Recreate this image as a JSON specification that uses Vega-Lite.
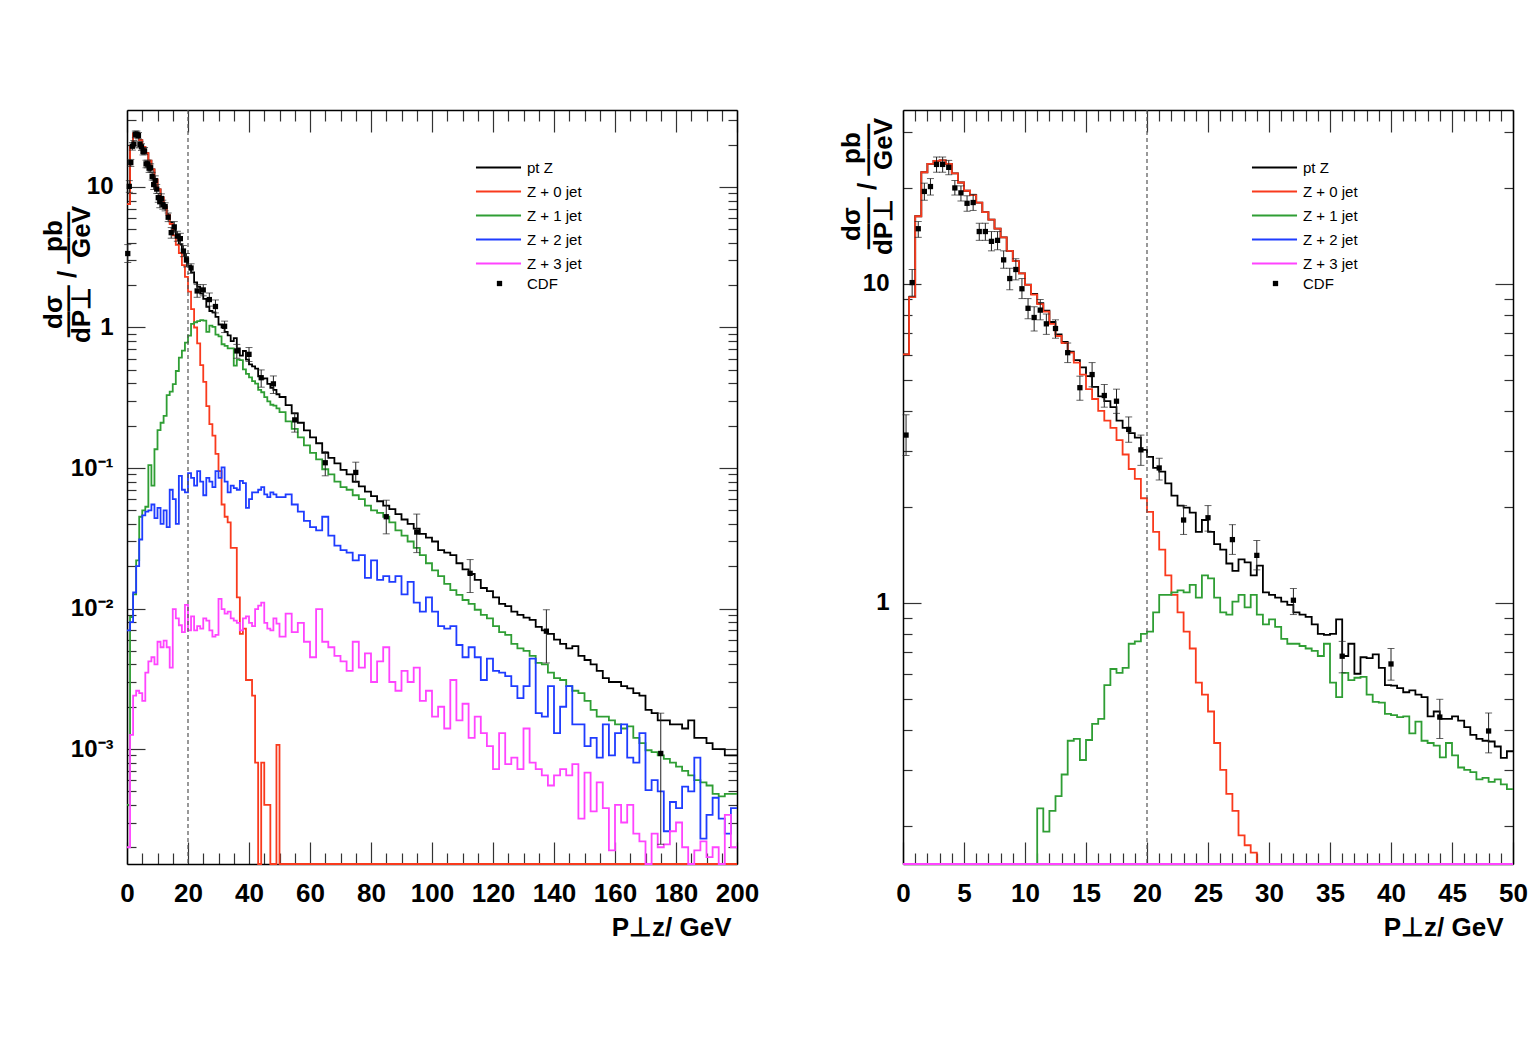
{
"$schema": "https://vega.github.io/schema/vega-lite/v6.json",
"background": "white",
"padding": {"left": 40, "top": 107, "right": 0, "bottom": 0},
"bounds": "flush",
"spacing": 166,
"config": {
  "font": "Liberation Sans",
  "view": {"stroke": null},
  "axis": {"domainColor": "#000", "domainWidth": 1.5, "tickColor": "#333", "tickWidth": 1.2, "grid": false, "labelColor": "#000", "titleColor": "#000", "labelFont": "Liberation Sans", "labelFontWeight": "bold", "titleFont": "Liberation Sans", "titleFontWeight": "bold", "labelOverlap": false, "labelFlush": false, "labelBound": false},
  "legend": {"labelFont": "Liberation Sans", "labelFontSize": 15, "labelColor": "#000", "padding": 0}
},
"datasets": {
"V": [{"x": 20}],
"P": [
{"x":0.25,"v":3.36,"lo":2.9,"hi":3.89},{"x":0.75,"v":10.1,"lo":9.16,"hi":11.1},{"x":1.25,"v":14.9,"lo":14.0,"hi":15.7},{"x":1.75,"v":19.5,"lo":18.3,"hi":20.7},{"x":2.25,"v":20.2,"lo":19.0,"hi":21.4},{"x":2.75,"v":23.7,"lo":22.4,"hi":25.0},{"x":3.25,"v":23.7,"lo":22.4,"hi":25.0},{"x":3.75,"v":23.2,"lo":22.0,"hi":24.4},{"x":4.25,"v":20.0,"lo":19.0,"hi":21.1},{"x":4.75,"v":19.3,"lo":18.2,"hi":20.3},{"x":5.25,"v":17.9,"lo":16.9,"hi":18.9},{"x":5.75,"v":18.0,"lo":17.0,"hi":19.1},{"x":6.25,"v":14.6,"lo":13.7,"hi":15.5},{"x":6.75,"v":14.6,"lo":13.7,"hi":15.5},{"x":7.25,"v":13.6,"lo":12.7,"hi":14.6},{"x":7.75,"v":13.7,"lo":12.8,"hi":14.6},{"x":8.25,"v":11.9,"lo":11.2,"hi":12.7},{"x":8.75,"v":10.4,"lo":9.59,"hi":11.2},{"x":9.25,"v":11.1,"lo":10.3,"hi":12.0},{"x":9.75,"v":9.66,"lo":9.0,"hi":10.4},{"x":10.25,"v":8.39,"lo":7.78,"hi":9.0},{"x":10.75,"v":7.85,"lo":7.12,"hi":8.48},{"x":11.25,"v":8.28,"lo":7.72,"hi":8.94},{"x":11.75,"v":7.5,"lo":6.95,"hi":8.05},{"x":12.5,"v":7.25,"lo":6.76,"hi":7.72},{"x":13.5,"v":6.09,"lo":5.67,"hi":6.53},{"x":14.5,"v":4.73,"lo":4.32,"hi":5.14},{"x":15.5,"v":5.2,"lo":4.76,"hi":5.67},{"x":16.5,"v":4.47,"lo":4.11,"hi":4.84},{"x":17.5,"v":4.29,"lo":3.93,"hi":4.68},{"x":18.5,"v":3.5,"lo":3.19,"hi":3.83},{"x":19.5,"v":3.02,"lo":2.7,"hi":3.36},{"x":21,"v":2.65,"lo":2.43,"hi":2.84},{"x":23,"v":1.82,"lo":1.64,"hi":2.02},{"x":25,"v":1.85,"lo":1.68,"hi":2.02},{"x":27,"v":1.58,"lo":1.42,"hi":1.76},{"x":29,"v":1.41,"lo":1.27,"hi":1.57},{"x":32,"v":1.02,"lo":0.92,"hi":1.11},{"x":36,"v":0.681,"lo":0.604,"hi":0.758},{"x":40,"v":0.644,"lo":0.573,"hi":0.72},{"x":44,"v":0.439,"lo":0.376,"hi":0.499},{"x":48,"v":0.397,"lo":0.339,"hi":0.452},{"x":55,"v":0.22,"lo":0.18,"hi":0.247},{"x":65,"v":0.109,"lo":0.088,"hi":0.131},{"x":75,"v":0.093,"lo":0.079,"hi":0.11},{"x":85,"v":0.045,"lo":0.034,"hi":0.059},{"x":95,"v":0.035,"lo":0.025,"hi":0.047},{"x":112.5,"v":0.0178,"lo":0.013,"hi":0.0223},{"x":137.5,"v":0.0069,"lo":0.0041,"hi":0.0098},{"x":175,"v":0.00093,"lo":0.00021,"hi":0.0018}
],
"R": [
{"x":0,"pt":6.02,"j0":6.02,"j1":0.0004},{"x":0.5,"pt":9.1,"j0":9.1,"j1":0.005},{"x":1,"pt":16.3,"j0":16.3,"j1":0.008},{"x":1.5,"pt":22.4,"j0":22.4,"j1":0.01},{"x":2,"pt":23.8,"j0":23.8,"j1":0.012},{"x":2.5,"pt":24.3,"j0":24.3,"j1":0.014},{"x":3,"pt":24.4,"j0":24.4,"j1":0.02},{"x":3.5,"pt":23.8,"j0":23.8,"j1":0.025},{"x":4,"pt":22.2,"j0":22.2,"j1":0.04},{"x":4.5,"pt":20.8,"j0":20.8,"j1":0.05},{"x":5,"pt":19.6,"j0":19.6,"j1":0.05},{"x":5.5,"pt":19,"j0":19,"j1":0.05},{"x":6,"pt":18,"j0":18,"j1":0.053},{"x":6.5,"pt":16.8,"j0":16.8,"j1":0.053},{"x":7,"pt":15.9,"j0":15.9,"j1":0.1},{"x":7.5,"pt":14.9,"j0":14.9,"j1":0.1},{"x":8,"pt":14,"j0":14,"j1":0.075},{"x":8.5,"pt":12.7,"j0":12.7,"j1":0.075},{"x":9,"pt":11.8,"j0":11.8,"j1":0.13},{"x":9.5,"pt":10.8,"j0":10.8,"j1":0.13},{"x":10,"pt":9.95,"j0":9.93,"j1":0.14},{"x":10.5,"pt":9.3,"j0":9.26,"j1":0.14},{"x":11,"pt":8.7,"j0":8.64,"j1":0.227},{"x":11.5,"pt":8.25,"j0":8.19,"j1":0.192},{"x":12,"pt":7.6,"j0":7.5,"j1":0.223},{"x":12.5,"pt":6.95,"j0":6.87,"j1":0.248},{"x":13,"pt":6.58,"j0":6.53,"j1":0.29},{"x":13.5,"pt":6.13,"j0":6.09,"j1":0.37},{"x":14,"pt":5.77,"j0":5.67,"j1":0.375},{"x":14.5,"pt":5.48,"j0":5.2,"j1":0.322},{"x":15,"pt":5.14,"j0":4.68,"j1":0.372},{"x":15.5,"pt":4.76,"j0":4.36,"j1":0.418},{"x":16,"pt":4.44,"j0":4,"j1":0.433},{"x":16.5,"pt":4.29,"j0":3.73,"j1":0.553},{"x":17,"pt":4.11,"j0":3.54,"j1":0.621},{"x":17.5,"pt":3.73,"j0":3.24,"j1":0.604},{"x":18,"pt":3.54,"j0":2.92,"j1":0.626},{"x":18.5,"pt":3.41,"j0":2.63,"j1":0.745},{"x":19,"pt":3.3,"j0":2.45,"j1":0.758},{"x":19.5,"pt":3.02,"j0":2.13,"j1":0.8},{"x":20,"pt":2.87,"j0":1.93,"j1":0.813},{"x":20.5,"pt":2.65,"j0":1.67,"j1":0.935},{"x":21,"pt":2.58,"j0":1.47,"j1":1.06},{"x":21.5,"pt":2.37,"j0":1.22,"j1":1.06},{"x":22,"pt":2.17,"j0":1.06,"j1":1.08},{"x":22.5,"pt":2.02,"j0":0.935,"j1":1.095},{"x":23,"pt":1.99,"j0":0.813,"j1":1.08},{"x":23.5,"pt":1.92,"j0":0.72,"j1":1.14},{"x":24,"pt":1.67,"j0":0.563,"j1":1.04},{"x":24.5,"pt":1.82,"j0":0.516,"j1":1.22},{"x":25,"pt":1.67,"j0":0.457,"j1":1.195},{"x":25.5,"pt":1.53,"j0":0.364,"j1":1.04},{"x":26,"pt":1.47,"j0":0.3,"j1":0.935},{"x":26.5,"pt":1.33,"j0":0.252,"j1":0.92},{"x":27,"pt":1.26,"j0":0.223,"j1":1.01},{"x":27.5,"pt":1.37,"j0":0.187,"j1":1.06},{"x":28,"pt":1.34,"j0":0.174,"j1":0.969},{"x":28.5,"pt":1.22,"j0":0.165,"j1":1.06},{"x":29,"pt":1.31,"j0":0.00001,"j1":0.92},{"x":29.5,"pt":1.08,"j0":0.00001,"j1":0.857},{"x":30,"pt":1.06,"j0":0.00001,"j1":0.888},{"x":30.5,"pt":1.04,"j0":0.00001,"j1":0.842},{"x":31,"pt":1.01,"j0":0.00001,"j1":0.772},{"x":31.5,"pt":0.986,"j0":0.00001,"j1":0.745},{"x":32,"pt":0.935,"j0":0.00001,"j1":0.745},{"x":32.5,"pt":0.92,"j0":0.00001,"j1":0.733},{"x":33,"pt":0.904,"j0":0.00001,"j1":0.72},{"x":33.5,"pt":0.857,"j0":0.00001,"j1":0.708},{"x":34,"pt":0.8,"j0":0.00001,"j1":0.682},{"x":34.5,"pt":0.794,"j0":0.00001,"j1":0.745},{"x":35,"pt":0.8,"j0":0.00001,"j1":0.563},{"x":35.5,"pt":0.888,"j0":0.00001,"j1":0.507},{"x":36,"pt":0.682,"j0":0.00001,"j1":0.604},{"x":36.5,"pt":0.745,"j0":0.00001,"j1":0.573},{"x":37,"pt":0.6,"j0":0.00001,"j1":0.583},{"x":37.5,"pt":0.676,"j0":0.00001,"j1":0.587},{"x":38,"pt":0.672,"j0":0.00001,"j1":0.516},{"x":38.5,"pt":0.69,"j0":0.00001,"j1":0.49},{"x":39,"pt":0.626,"j0":0.00001,"j1":0.487},{"x":39.5,"pt":0.553,"j0":0.00001,"j1":0.449},{"x":40,"pt":0.551,"j0":0.00001,"j1":0.445},{"x":40.5,"pt":0.541,"j0":0.00001,"j1":0.439},{"x":41,"pt":0.525,"j0":0.00001,"j1":0.441},{"x":41.5,"pt":0.532,"j0":0.00001,"j1":0.39},{"x":42,"pt":0.516,"j0":0.00001,"j1":0.425},{"x":42.5,"pt":0.507,"j0":0.00001,"j1":0.37},{"x":43,"pt":0.441,"j0":0.00001,"j1":0.364},{"x":43.5,"pt":0.457,"j0":0.00001,"j1":0.357},{"x":44,"pt":0.433,"j0":0.00001,"j1":0.328},{"x":44.5,"pt":0.433,"j0":0.00001,"j1":0.364},{"x":45,"pt":0.441,"j0":0.00001,"j1":0.333},{"x":45.5,"pt":0.428,"j0":0.00001,"j1":0.305},{"x":46,"pt":0.408,"j0":0.00001,"j1":0.3},{"x":46.5,"pt":0.386,"j0":0.00001,"j1":0.295},{"x":47,"pt":0.375,"j0":0.00001,"j1":0.28},{"x":47.5,"pt":0.37,"j0":0.00001,"j1":0.283},{"x":48,"pt":0.368,"j0":0.00001,"j1":0.275},{"x":48.5,"pt":0.355,"j0":0.00001,"j1":0.28},{"x":49,"pt":0.327,"j0":0.00001,"j1":0.27},{"x":49.5,"pt":0.343,"j0":0.00001,"j1":0.261},{"x":50,"pt":0.343,"j0":0.00001,"j1":0.261}
],
"L": [
{"x":0,"pt":7.56,"j0":7.56,"j1":0.0004,"j2":0.007,"j3":0.0002},{"x":1,"pt":19.35,"j0":19.35,"j1":0.0087,"j2":0.008,"j3":0.00126},{"x":2,"pt":24.05,"j0":24.05,"j1":0.0126,"j2":0.013,"j3":0.0024},{"x":3,"pt":24.1,"j0":24.1,"j1":0.022,"j2":0.02,"j3":0.0026},{"x":4,"pt":21.5,"j0":21.5,"j1":0.045,"j2":0.031,"j3":0.0025},{"x":5,"pt":19.3,"j0":19.3,"j1":0.05,"j2":0.046,"j3":0.0022},{"x":6,"pt":17.4,"j0":17.4,"j1":0.053,"j2":0.049,"j3":0.0035},{"x":7,"pt":15.4,"j0":15.4,"j1":0.105,"j2":0.05,"j3":0.0042},{"x":8,"pt":13.35,"j0":13.35,"j1":0.075,"j2":0.055,"j3":0.0045},{"x":9,"pt":11.3,"j0":11.3,"j1":0.136,"j2":0.044,"j3":0.004},
{"x":10,"pt":9.6,"j0":9.6,"j1":0.186,"j2":0.052,"j3":0.0058},{"x":11,"pt":8.45,"j0":8.4,"j1":0.21,"j2":0.04,"j3":0.0053},{"x":12,"pt":7.25,"j0":7.2,"j1":0.235,"j2":0.05,"j3":0.0059},{"x":13,"pt":6.35,"j0":6.3,"j1":0.33,"j2":0.038,"j3":0.0053},{"x":14,"pt":5.6,"j0":5.45,"j1":0.35,"j2":0.07,"j3":0.0038},{"x":15,"pt":4.95,"j0":4.52,"j1":0.395,"j2":0.06,"j3":0.0099},{"x":16,"pt":4.36,"j0":3.87,"j1":0.49,"j2":0.04,"j3":0.0085},{"x":17,"pt":3.92,"j0":3.39,"j1":0.61,"j2":0.088,"j3":0.0076},{"x":18,"pt":3.47,"j0":2.78,"j1":0.685,"j2":0.07,"j3":0.0068},{"x":19,"pt":3.16,"j0":2.29,"j1":0.78,"j2":0.067,"j3":0.0106},
{"x":20,"pt":2.76,"j0":1.8,"j1":0.874,"j2":0.092,"j3":0.007},{"x":21,"pt":2.47,"j0":1.35,"j1":1.06,"j2":0.085,"j3":0.0088},{"x":22,"pt":2.09,"j0":1.0,"j1":1.09,"j2":0.075,"j3":0.007},{"x":23,"pt":1.95,"j0":0.77,"j1":1.11,"j2":0.095,"j3":0.0075},{"x":24,"pt":1.74,"j0":0.54,"j1":1.13,"j2":0.08,"j3":0.0072},{"x":25,"pt":1.6,"j0":0.41,"j1":1.12,"j2":0.064,"j3":0.0085},{"x":26,"pt":1.4,"j0":0.276,"j1":0.93,"j2":0.085,"j3":0.0082},{"x":27,"pt":1.31,"j0":0.205,"j1":1.03,"j2":0.08,"j3":0.007},{"x":28,"pt":1.28,"j0":0.17,"j1":1.01,"j2":0.073,"j3":0.0063},{"x":29,"pt":1.19,"j0":0.126,"j1":0.89,"j2":0.095,"j3":0.0065},
{"x":30,"pt":1.05,"j0":0.095,"j1":0.865,"j2":0.085,"j3":0.0117},{"x":31,"pt":1.0,"j0":0.055,"j1":0.76,"j2":0.101,"j3":0.0099},{"x":32,"pt":0.93,"j0":0.045,"j1":0.74,"j2":0.08,"j3":0.0092},{"x":33,"pt":0.88,"j0":0.041,"j1":0.71,"j2":0.067,"j3":0.0095},{"x":34,"pt":0.8,"j0":0.027,"j1":0.71,"j2":0.075,"j3":0.0085},{"x":35,"pt":0.84,"j0":0.027,"j1":0.535,"j2":0.072,"j3":0.0082},{"x":36,"pt":0.71,"j0":0.012,"j1":0.59,"j2":0.07,"j3":0.0079},{"x":37,"pt":0.63,"j0":0.0066,"j1":0.585,"j2":0.081,"j3":0.007},{"x":38,"pt":0.68,"j0":0.0072,"j1":0.503,"j2":0.078,"j3":0.0085},{"x":39,"pt":0.59,"j0":0.0031,"j1":0.468,"j2":0.052,"j3":0.0088},
{"x":40,"pt":0.546,"j0":0.0031,"j1":0.442,"j2":0.06,"j3":0.0079},{"x":41,"pt":0.528,"j0":0.0024,"j1":0.415,"j2":0.067,"j3":0.0075},{"x":42,"pt":0.51,"j0":0.0008,"j1":0.398,"j2":0.067,"j3":0.0099},{"x":43,"pt":0.449,"j0":0.00001,"j1":0.36,"j2":0.07,"j3":0.0105},{"x":44,"pt":0.433,"j0":0.0008,"j1":0.346,"j2":0.073,"j3":0.011},{"x":45,"pt":0.434,"j0":0.0004,"j1":0.319,"j2":0.065,"j3":0.0079},{"x":46,"pt":0.397,"j0":0.0004,"j1":0.298,"j2":0.062,"j3":0.0072},{"x":47,"pt":0.372,"j0":0.00001,"j1":0.282,"j2":0.067,"j3":0.007},{"x":48,"pt":0.36,"j0":0.00001,"j1":0.278,"j2":0.065,"j3":0.0085},{"x":49,"pt":0.335,"j0":0.00107,"j1":0.266,"j2":0.062,"j3":0.0078},
{"x":50,"pt":0.32,"j0":0.00001,"j1":0.25,"j2":0.062,"j3":0.0063},{"x":52,"pt":0.28,"j0":0.00001,"j1":0.215,"j2":0.065,"j3":0.0092},{"x":54,"pt":0.245,"j0":0.00001,"j1":0.19,"j2":0.055,"j3":0.0068},{"x":56,"pt":0.21,"j0":0.00001,"j1":0.165,"j2":0.049,"j3":0.0079},{"x":58,"pt":0.185,"j0":0.00001,"j1":0.145,"j2":0.042,"j3":0.0058},{"x":60,"pt":0.165,"j0":0.00001,"j1":0.128,"j2":0.038,"j3":0.0045},{"x":62,"pt":0.15,"j0":0.00001,"j1":0.115,"j2":0.036,"j3":0.0099},{"x":64,"pt":0.128,"j0":0.00001,"j1":0.098,"j2":0.045,"j3":0.0058},{"x":66,"pt":0.118,"j0":0.00001,"j1":0.09,"j2":0.033,"j3":0.0053},{"x":68,"pt":0.108,"j0":0.00001,"j1":0.08,"j2":0.028,"j3":0.0046},
{"x":70,"pt":0.097,"j0":0.00001,"j1":0.073,"j2":0.026,"j3":0.0042},{"x":72,"pt":0.09,"j0":0.00001,"j1":0.07,"j2":0.025,"j3":0.0036},{"x":74,"pt":0.08,"j0":0.00001,"j1":0.064,"j2":0.022,"j3":0.0058},{"x":76,"pt":0.074,"j0":0.00001,"j1":0.06,"j2":0.024,"j3":0.0038},{"x":78,"pt":0.068,"j0":0.00001,"j1":0.054,"j2":0.0165,"j3":0.0048},{"x":80,"pt":0.063,"j0":0.00001,"j1":0.05,"j2":0.022,"j3":0.003},{"x":82,"pt":0.058,"j0":0.00001,"j1":0.048,"j2":0.016,"j3":0.0042},{"x":84,"pt":0.054,"j0":0.00001,"j1":0.045,"j2":0.017,"j3":0.0053},{"x":86,"pt":0.051,"j0":0.00001,"j1":0.041,"j2":0.0155,"j3":0.003},{"x":88,"pt":0.047,"j0":0.00001,"j1":0.036,"j2":0.017,"j3":0.0026},
{"x":90,"pt":0.043,"j0":0.00001,"j1":0.033,"j2":0.0126,"j3":0.0036},{"x":92,"pt":0.04,"j0":0.00001,"j1":0.03,"j2":0.0155,"j3":0.003},{"x":94,"pt":0.037,"j0":0.00001,"j1":0.027,"j2":0.011,"j3":0.0038},{"x":96,"pt":0.034,"j0":0.00001,"j1":0.024,"j2":0.0095,"j3":0.0022},{"x":98,"pt":0.032,"j0":0.00001,"j1":0.021,"j2":0.012,"j3":0.0026},{"x":100,"pt":0.03,"j0":0.00001,"j1":0.0187,"j2":0.0095,"j3":0.0017},{"x":102,"pt":0.026,"j0":0.00001,"j1":0.017,"j2":0.0075,"j3":0.002},{"x":104,"pt":0.025,"j0":0.00001,"j1":0.015,"j2":0.0072,"j3":0.0014},{"x":106,"pt":0.024,"j0":0.00001,"j1":0.0135,"j2":0.0075,"j3":0.0031},{"x":108,"pt":0.021,"j0":0.00001,"j1":0.0125,"j2":0.0055,"j3":0.0016},
{"x":110,"pt":0.019,"j0":0.00001,"j1":0.0115,"j2":0.0045,"j3":0.0021},{"x":112,"pt":0.0176,"j0":0.00001,"j1":0.0108,"j2":0.0053,"j3":0.0012},{"x":114,"pt":0.016,"j0":0.00001,"j1":0.0098,"j2":0.0045,"j3":0.0017},{"x":116,"pt":0.014,"j0":0.00001,"j1":0.009,"j2":0.0031,"j3":0.0013},{"x":118,"pt":0.0133,"j0":0.00001,"j1":0.0085,"j2":0.0044,"j3":0.00105},{"x":120,"pt":0.012,"j0":0.00001,"j1":0.0075,"j2":0.0036,"j3":0.00072},{"x":122,"pt":0.0108,"j0":0.00001,"j1":0.0068,"j2":0.0035,"j3":0.0013},{"x":124,"pt":0.0104,"j0":0.00001,"j1":0.0065,"j2":0.0033,"j3":0.00078},{"x":126,"pt":0.0095,"j0":0.00001,"j1":0.0056,"j2":0.0028,"j3":0.00087},{"x":128,"pt":0.009,"j0":0.00001,"j1":0.0052,"j2":0.0023,"j3":0.00072},
{"x":130,"pt":0.0086,"j0":0.00001,"j1":0.005,"j2":0.0028,"j3":0.0014},{"x":132,"pt":0.0083,"j0":0.00001,"j1":0.0046,"j2":0.0044,"j3":0.0008},{"x":134,"pt":0.0074,"j0":0.00001,"j1":0.0041,"j2":0.0018,"j3":0.00072},{"x":136,"pt":0.007,"j0":0.00001,"j1":0.004,"j2":0.0017,"j3":0.00065},{"x":138,"pt":0.0066,"j0":0.00001,"j1":0.0035,"j2":0.0028,"j3":0.00055},{"x":140,"pt":0.006,"j0":0.00001,"j1":0.0032,"j2":0.0013,"j3":0.00065},{"x":142,"pt":0.0056,"j0":0.00001,"j1":0.0031,"j2":0.002,"j3":0.00072},{"x":144,"pt":0.0052,"j0":0.00001,"j1":0.0028,"j2":0.0028,"j3":0.00065},{"x":146,"pt":0.0054,"j0":0.00001,"j1":0.0026,"j2":0.0015,"j3":0.00078},{"x":148,"pt":0.0046,"j0":0.00001,"j1":0.0025,"j2":0.0015,"j3":0.00032},
{"x":150,"pt":0.0043,"j0":0.00001,"j1":0.0022,"j2":0.00105,"j3":0.00068},{"x":152,"pt":0.004,"j0":0.00001,"j1":0.0019,"j2":0.0012,"j3":0.00036},{"x":154,"pt":0.0036,"j0":0.00001,"j1":0.0017,"j2":0.00087,"j3":0.00058},{"x":156,"pt":0.0032,"j0":0.00001,"j1":0.0017,"j2":0.0015,"j3":0.00038},{"x":158,"pt":0.003,"j0":0.00001,"j1":0.0016,"j2":0.0009,"j3":0.00019},{"x":160,"pt":0.003,"j0":0.00001,"j1":0.0015,"j2":0.0013,"j3":0.0004},{"x":162,"pt":0.0028,"j0":0.00001,"j1":0.0014,"j2":0.0015,"j3":0.0003},{"x":164,"pt":0.0027,"j0":0.00001,"j1":0.00145,"j2":0.00087,"j3":0.0004},{"x":166,"pt":0.0025,"j0":0.00001,"j1":0.0012,"j2":0.0008,"j3":0.00025},{"x":168,"pt":0.0024,"j0":0.00001,"j1":0.0011,"j2":0.0013,"j3":0.00022},
{"x":170,"pt":0.0019,"j0":0.00001,"j1":0.00098,"j2":0.00051,"j3":0.00015},{"x":172,"pt":0.0018,"j0":0.00001,"j1":0.00095,"j2":0.0006,"j3":0.00025},{"x":174,"pt":0.0016,"j0":0.00001,"j1":0.0009,"j2":0.0005,"j3":0.0002},{"x":176,"pt":0.0016,"j0":0.00001,"j1":0.00085,"j2":0.00026,"j3":0.00021},{"x":178,"pt":0.0015,"j0":0.00001,"j1":0.0008,"j2":0.00042,"j3":0.00026},{"x":180,"pt":0.0015,"j0":0.00001,"j1":0.00075,"j2":0.00038,"j3":0.0003},{"x":182,"pt":0.0014,"j0":0.00001,"j1":0.0007,"j2":0.00054,"j3":0.0002},{"x":184,"pt":0.0016,"j0":0.00001,"j1":0.00065,"j2":0.0005,"j3":0.0001},{"x":186,"pt":0.0012,"j0":0.00001,"j1":0.0006,"j2":0.00087,"j3":0.00019},{"x":188,"pt":0.0012,"j0":0.00001,"j1":0.00058,"j2":0.00023,"j3":0.00022},
{"x":190,"pt":0.0011,"j0":0.00001,"j1":0.00055,"j2":0.00034,"j3":0.00017},{"x":192,"pt":0.001,"j0":0.00001,"j1":0.00048,"j2":0.00045,"j3":0.0002},{"x":194,"pt":0.001,"j0":0.00001,"j1":0.00046,"j2":0.00032,"j3":0.0001},{"x":196,"pt":0.0009,"j0":0.00001,"j1":0.00048,"j2":0.00025,"j3":0.00034},{"x":198,"pt":0.0009,"j0":0.00001,"j1":0.00048,"j2":0.00038,"j3":0.0002},{"x":200,"pt":0.0009,"j0":0.00001,"j1":0.00048,"j2":0.00038,"j3":0.0002}
]
},
"resolve": {"scale": {"color": "independent", "shape": "independent"}, "legend": {"color": "independent", "shape": "independent"}},
"hconcat": [
{
  "width": 610, "height": 754,
  "layer": [
    {
      "data": {"name": "L"},
      "transform": [{"fold": ["pt","j0","j1","j2","j3"], "as": ["s","v"]}],
      "mark": {"type": "line", "interpolate": "step-after", "strokeWidth": 1.8},
      "encoding": {
        "x": {"field": "x", "type": "quantitative", "scale": {"domain": [0,200], "nice": false, "zero": false},
              "axis": {"orient": "bottom", "values": [0,5,10,15,20,25,30,35,40,45,50,55,60,65,70,75,80,85,90,95,100,105,110,115,120,125,130,135,140,145,150,155,160,165,170,175,180,185,190,195,200],
                       "labelExpr": "datum.value % 20 === 0 ? datum.label : ''",
                       "tickSize": {"condition": {"test": "datum.value % 20 === 0", "value": -22}, "value": -11},
                       "labelPadding": 38, "labelFontSize": 26,
                       "title": "P⊥z/ GeV", "titleFontSize": 26, "titleX": 604, "titleY": 71, "titleAlign": "right", "titleBaseline": "alphabetic"}},
        "y": {"field": "v", "type": "quantitative", "scale": {"type": "log", "domain": [0.000152, 35.3], "nice": false, "clamp": true},
              "axis": {"orient": "left", "values": [0.0002,0.0003,0.0004,0.0005,0.0006,0.0007,0.0008,0.0009,0.001,0.002,0.003,0.004,0.005,0.006,0.007,0.008,0.009,0.01,0.02,0.03,0.04,0.05,0.06,0.07,0.08,0.09,0.1,0.2,0.3,0.4,0.5,0.6,0.7,0.8,0.9,1,2,3,4,5,6,7,8,9,10,20,30],
                       "labelExpr": "datum.value === 10 ? '10' : datum.value === 1 ? '1' : datum.value === 0.1 ? '10⁻¹' : datum.value === 0.01 ? '10⁻²' : datum.value === 0.001 ? '10⁻³' : ''",
                       "tickSize": {"condition": {"test": "indexof([0.001,0.01,0.1,1,10], datum.value) >= 0", "value": -18}, "value": -9},
                       "labelPadding": 32, "labelFontSize": 24,
                       "title": ["dσ\u00a0\u00a0\u00a0\u00a0\u00a0\u00a0pb", "——\u00a0/\u00a0——", "dP⊥\u00a0\u00a0\u00a0\u00a0GeV"], "titleFontSize": 26, "titleAngle": -90, "titleX": -74, "titleY": 164, "titleAlign": "center", "titleBaseline": "middle", "titleLineHeight": 14}},
        "color": {"field": "s", "type": "nominal",
                  "scale": {"domain": ["pt","j0","j1","j2","j3"], "range": ["#000000","#f93a1d","#2f9e34","#1f3cff","#ff44ff"]},
                  "legend": {"orient": "none", "legendX": 364, "legendY": 50, "title": null, "symbolType": "M-4,0H4", "symbolSize": 127, "symbolStrokeWidth": 2, "labelOffset": 21, "rowPadding": 8,
                             "labelExpr": "datum.label == 'pt' ? 'pt Z' : 'Z + ' + substring(datum.label, 1, 2) + ' jet'"}}
      }
    },
    {
      "data": {"name": "V"},
      "mark": {"type": "rule", "strokeDash": [4,3], "color": "#555", "strokeWidth": 1.2},
      "encoding": {"x": {"field": "x", "type": "quantitative", "scale": {"domain": [0,200], "nice": false, "zero": false}, "axis": null}}
    },
    {
      "data": {"name": "P"},
      "mark": {"type": "rule", "color": "#222", "strokeWidth": 1},
      "encoding": {
        "x": {"field": "x", "type": "quantitative", "scale": {"domain": [0,200], "nice": false, "zero": false}, "axis": null},
        "y": {"field": "lo", "type": "quantitative", "scale": {"type": "log", "domain": [0.000152, 35.3], "nice": false, "clamp": true}, "axis": null},
        "y2": {"field": "hi"}
      }
    },
    {
      "data": {"name": "P"},
      "mark": {"type": "tick", "orient": "horizontal", "size": 7, "thickness": 1, "color": "#222"},
      "encoding": {
        "x": {"field": "x", "type": "quantitative", "scale": {"domain": [0,200], "nice": false, "zero": false}, "axis": null},
        "y": {"field": "lo", "type": "quantitative", "scale": {"type": "log", "domain": [0.000152, 35.3], "nice": false, "clamp": true}, "axis": null}
      }
    },
    {
      "data": {"name": "P"},
      "mark": {"type": "tick", "orient": "horizontal", "size": 7, "thickness": 1, "color": "#222"},
      "encoding": {
        "x": {"field": "x", "type": "quantitative", "scale": {"domain": [0,200], "nice": false, "zero": false}, "axis": null},
        "y": {"field": "hi", "type": "quantitative", "scale": {"type": "log", "domain": [0.000152, 35.3], "nice": false, "clamp": true}, "axis": null}
      }
    },
    {
      "data": {"name": "P"},
      "mark": {"type": "point", "filled": true, "size": 28, "color": "#000", "opacity": 1},
      "encoding": {
        "x": {"field": "x", "type": "quantitative", "scale": {"domain": [0,200], "nice": false, "zero": false},
              "axis": {"orient": "top", "values": [0,5,10,15,20,25,30,35,40,45,50,55,60,65,70,75,80,85,90,95,100,105,110,115,120,125,130,135,140,145,150,155,160,165,170,175,180,185,190,195,200], "labels": false, "title": null,
                       "tickSize": {"condition": {"test": "datum.value % 20 === 0", "value": -22}, "value": -11}}},
        "y": {"field": "v", "type": "quantitative", "scale": {"type": "log", "domain": [0.000152, 35.3], "nice": false, "clamp": true},
              "axis": {"orient": "right", "values": [0.0002,0.0003,0.0004,0.0005,0.0006,0.0007,0.0008,0.0009,0.001,0.002,0.003,0.004,0.005,0.006,0.007,0.008,0.009,0.01,0.02,0.03,0.04,0.05,0.06,0.07,0.08,0.09,0.1,0.2,0.3,0.4,0.5,0.6,0.7,0.8,0.9,1,2,3,4,5,6,7,8,9,10,20,30], "labels": false, "title": null,
                       "tickSize": {"condition": {"test": "indexof([0.001,0.01,0.1,1,10], datum.value) >= 0", "value": -18}, "value": -9}}},
        "shape": {"datum": "CDF", "scale": {"range": ["square"]},
                  "legend": {"orient": "none", "legendX": 365, "legendY": 166, "title": null, "symbolSize": 28, "symbolFillColor": "#000", "symbolStrokeColor": "#000", "labelOffset": 20}}
      }
    }
  ],
  "resolve": {"axis": {"x": "independent", "y": "independent"}}
},
{
  "width": 610, "height": 754,
  "layer": [
    {
      "data": {"name": "R"},
      "transform": [{"fold": ["pt","j0","j1"], "as": ["s","v"]}],
      "mark": {"type": "line", "interpolate": "step-after", "strokeWidth": 1.8},
      "encoding": {
        "x": {"field": "x", "type": "quantitative", "scale": {"domain": [0,50], "nice": false, "zero": false},
              "axis": {"orient": "bottom", "values": [0,1,2,3,4,5,6,7,8,9,10,11,12,13,14,15,16,17,18,19,20,21,22,23,24,25,26,27,28,29,30,31,32,33,34,35,36,37,38,39,40,41,42,43,44,45,46,47,48,49,50],
                       "labelExpr": "datum.value % 5 === 0 ? datum.label : ''",
                       "tickSize": {"condition": {"test": "datum.value % 5 === 0", "value": -22}, "value": -11},
                       "labelPadding": 38, "labelFontSize": 26,
                       "title": "P⊥z/ GeV", "titleFontSize": 26, "titleX": 600, "titleY": 71, "titleAlign": "right", "titleBaseline": "alphabetic"}},
        "y": {"field": "v", "type": "quantitative", "scale": {"type": "log", "domain": [0.152, 35.1], "nice": false, "clamp": true},
              "axis": {"orient": "left", "values": [0.2,0.3,0.4,0.5,0.6,0.7,0.8,0.9,1,2,3,4,5,6,7,8,9,10,20,30],
                       "labelExpr": "datum.value === 10 ? '10' : datum.value === 1 ? '1' : ''",
                       "tickSize": {"condition": {"test": "indexof([1,10], datum.value) >= 0", "value": -18}, "value": -9},
                       "labelPadding": 32, "labelFontSize": 24,
                       "title": ["dσ\u00a0\u00a0\u00a0\u00a0\u00a0\u00a0pb", "——\u00a0/\u00a0——", "dP⊥\u00a0\u00a0\u00a0\u00a0GeV"], "titleFontSize": 26, "titleAngle": -90, "titleX": -52, "titleY": 76, "titleAlign": "center", "titleBaseline": "middle", "titleLineHeight": 16}},
        "color": {"field": "s", "type": "nominal",
                  "scale": {"domain": ["pt","j0","j1","j2","j3"], "range": ["#000000","#f93a1d","#2f9e34","#1f3cff","#ff44ff"]},
                  "legend": {"orient": "none", "legendX": 364, "legendY": 50, "title": null, "symbolType": "M-4,0H4", "symbolSize": 127, "symbolStrokeWidth": 2, "labelOffset": 21, "rowPadding": 8,
                             "labelExpr": "datum.label == 'pt' ? 'pt Z' : 'Z + ' + substring(datum.label, 1, 2) + ' jet'"}}
      }
    },
    {
      "data": {"name": "L"},
      "transform": [{"filter": "datum.x <= 50"}, {"fold": ["j2","j3"], "as": ["s","v"]}],
      "mark": {"type": "line", "interpolate": "step-after", "strokeWidth": 1.8},
      "encoding": {
        "x": {"field": "x", "type": "quantitative", "scale": {"domain": [0,50], "nice": false, "zero": false}, "axis": null},
        "y": {"field": "v", "type": "quantitative", "scale": {"type": "log", "domain": [0.152, 35.1], "nice": false, "clamp": true}, "axis": null},
        "color": {"field": "s", "type": "nominal",
                  "scale": {"domain": ["pt","j0","j1","j2","j3"], "range": ["#000000","#f93a1d","#2f9e34","#1f3cff","#ff44ff"]}}
      }
    },
    {
      "data": {"name": "V"},
      "mark": {"type": "rule", "strokeDash": [4,3], "color": "#555", "strokeWidth": 1.2},
      "encoding": {"x": {"field": "x", "type": "quantitative", "scale": {"domain": [0,50], "nice": false, "zero": false}, "axis": null}}
    },
    {
      "data": {"name": "P"},
      "transform": [{"filter": "datum.x <= 50"}],
      "mark": {"type": "rule", "color": "#222", "strokeWidth": 1},
      "encoding": {
        "x": {"field": "x", "type": "quantitative", "scale": {"domain": [0,50], "nice": false, "zero": false}, "axis": null},
        "y": {"field": "lo", "type": "quantitative", "scale": {"type": "log", "domain": [0.152, 35.1], "nice": false, "clamp": true}, "axis": null},
        "y2": {"field": "hi"}
      }
    },
    {
      "data": {"name": "P"},
      "transform": [{"filter": "datum.x <= 50"}],
      "mark": {"type": "tick", "orient": "horizontal", "size": 7, "thickness": 1, "color": "#222"},
      "encoding": {
        "x": {"field": "x", "type": "quantitative", "scale": {"domain": [0,50], "nice": false, "zero": false}, "axis": null},
        "y": {"field": "lo", "type": "quantitative", "scale": {"type": "log", "domain": [0.152, 35.1], "nice": false, "clamp": true}, "axis": null}
      }
    },
    {
      "data": {"name": "P"},
      "transform": [{"filter": "datum.x <= 50"}],
      "mark": {"type": "tick", "orient": "horizontal", "size": 7, "thickness": 1, "color": "#222"},
      "encoding": {
        "x": {"field": "x", "type": "quantitative", "scale": {"domain": [0,50], "nice": false, "zero": false}, "axis": null},
        "y": {"field": "hi", "type": "quantitative", "scale": {"type": "log", "domain": [0.152, 35.1], "nice": false, "clamp": true}, "axis": null}
      }
    },
    {
      "data": {"name": "P"},
      "transform": [{"filter": "datum.x <= 50"}],
      "mark": {"type": "point", "filled": true, "size": 28, "color": "#000", "opacity": 1},
      "encoding": {
        "x": {"field": "x", "type": "quantitative", "scale": {"domain": [0,50], "nice": false, "zero": false},
              "axis": {"orient": "top", "values": [0,1,2,3,4,5,6,7,8,9,10,11,12,13,14,15,16,17,18,19,20,21,22,23,24,25,26,27,28,29,30,31,32,33,34,35,36,37,38,39,40,41,42,43,44,45,46,47,48,49,50], "labels": false, "title": null,
                       "tickSize": {"condition": {"test": "datum.value % 5 === 0", "value": -22}, "value": -11}}},
        "y": {"field": "v", "type": "quantitative", "scale": {"type": "log", "domain": [0.152, 35.1], "nice": false, "clamp": true},
              "axis": {"orient": "right", "values": [0.2,0.3,0.4,0.5,0.6,0.7,0.8,0.9,1,2,3,4,5,6,7,8,9,10,20,30], "labels": false, "title": null,
                       "tickSize": {"condition": {"test": "indexof([1,10], datum.value) >= 0", "value": -18}, "value": -9}}},
        "shape": {"datum": "CDF", "scale": {"range": ["square"]},
                  "legend": {"orient": "none", "legendX": 365, "legendY": 166, "title": null, "symbolSize": 28, "symbolFillColor": "#000", "symbolStrokeColor": "#000", "labelOffset": 20}}
      }
    }
  ],
  "resolve": {"axis": {"x": "independent", "y": "independent"}}
}
]
}
